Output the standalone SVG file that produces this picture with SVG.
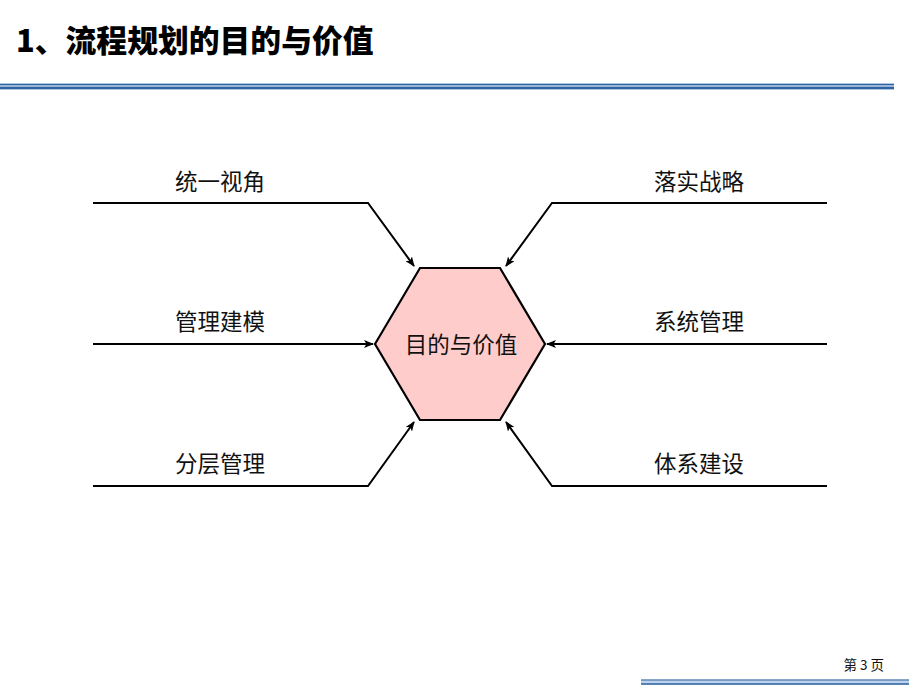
<svg xmlns="http://www.w3.org/2000/svg" width="920" height="690" viewBox="0 0 920 690">
<defs>
<marker id="ah" markerWidth="10" markerHeight="8" refX="9" refY="4" orient="auto" markerUnits="userSpaceOnUse">
<path d="M0,0 L10,4 L0,8 L2.5,4 Z" fill="#000"/>
</marker>
</defs>
<style>
.lbl{font-family:"Noto Sans CJK SC","Liberation Sans",sans-serif;font-size:22.5px;fill:#111;text-anchor:middle}
.conn{fill:none;stroke:#000;stroke-width:2}
</style>
<rect width="920" height="690" fill="#fff"/>
<g id="title">
<text x="16" y="52" font-family="'Noto Sans CJK SC','Liberation Sans',sans-serif" font-size="30.8" font-weight="900" fill="#000">1、流程规划的目的与价值</text>
</g>
<g id="header-rule">
<rect x="0" y="83.5" width="894" height="6" fill="#bcd3ea"/>
<line x1="0" y1="84.5" x2="894" y2="84.5" stroke="#2e62a0" stroke-width="1.5"/>
<line x1="0" y1="88" x2="894" y2="88" stroke="#2e62a0" stroke-width="2.5"/>
</g>
<g id="connectors">
<polyline class="conn" points="93,203 368,203 414,266" marker-end="url(#ah)"/>
<polyline class="conn" points="93,344 373,344" marker-end="url(#ah)"/>
<polyline class="conn" points="93,486 368,486 414,422" marker-end="url(#ah)"/>
<polyline class="conn" points="827,203 552,203 506,266" marker-end="url(#ah)"/>
<polyline class="conn" points="827,344 547,344" marker-end="url(#ah)"/>
<polyline class="conn" points="827,486 552,486 506,422" marker-end="url(#ah)"/>
</g>
<g id="center">
<polygon points="375,344 420,268 500,268 545,344 500,420 420,420" fill="#ffcccc" stroke="#000" stroke-width="2.2"/>
<text class="lbl" x="461" y="353">目的与价值</text>
</g>
<g id="n1"><text class="lbl" x="220" y="190">统一视角</text></g>
<g id="n2"><text class="lbl" x="220" y="330">管理建模</text></g>
<g id="n3"><text class="lbl" x="220" y="472">分层管理</text></g>
<g id="n4"><text class="lbl" x="699" y="190">落实战略</text></g>
<g id="n5"><text class="lbl" x="699" y="330">系统管理</text></g>
<g id="n6"><text class="lbl" x="699" y="472">体系建设</text></g>
<g id="footer">
<text x="884" y="670" font-family="'Noto Sans CJK SC','Liberation Sans',sans-serif" font-size="13.5" fill="#111" text-anchor="end">第 3 页</text>
<rect x="641" y="679.5" width="268" height="5" fill="#bcd3ea"/>
<line x1="641" y1="680" x2="909" y2="680" stroke="#2e62a0" stroke-width="1.2"/>
<line x1="641" y1="684" x2="909" y2="684" stroke="#2e62a0" stroke-width="1.5"/>
</g>
</svg>
